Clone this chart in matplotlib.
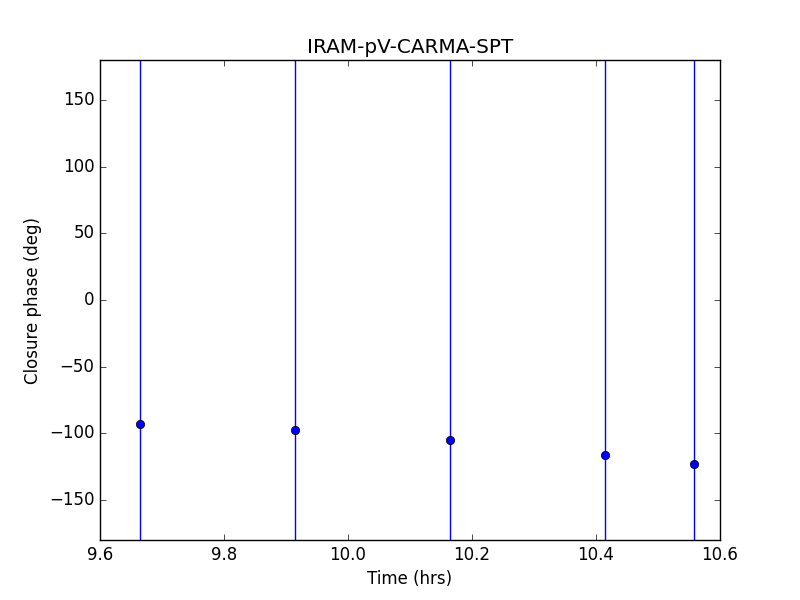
import matplotlib
matplotlib.use('Agg')
import matplotlib.pyplot as plt

plt.style.use('classic')

# closure phase data
time_hrs = [9.6645, 9.9145, 10.1645, 10.4145, 10.558]
phase_deg = [-93.3, -97.8, -105.3, -116.0, -122.8]
phase_err = [400, 400, 400, 400, 400]

fig = plt.figure(figsize=(8, 6), dpi=100)
fig.patch.set_facecolor('white')
ax = fig.add_axes([0.125, 0.1, 0.775, 0.8])

ax.errorbar(time_hrs, phase_deg, yerr=phase_err, fmt='o', color='blue',
            mec='black', ms=6, capsize=0)

ax.set_xlim(9.6, 10.6)
ax.set_ylim(-180, 180)
ax.set_xticks([9.6, 9.8, 10.0, 10.2, 10.4, 10.6])
ax.set_xticklabels(['9.6', '9.8', '10.0', '10.2', '10.4', '10.6'])
ax.set_yticks([-150, -100, -50, 0, 50, 100, 150])
ax.set_title('IRAM-pV-CARMA-SPT')
ax.set_xlabel('Time (hrs)')
ax.set_ylabel('Closure phase (deg)')

fig.savefig('out.png', dpi=100, facecolor='white')
